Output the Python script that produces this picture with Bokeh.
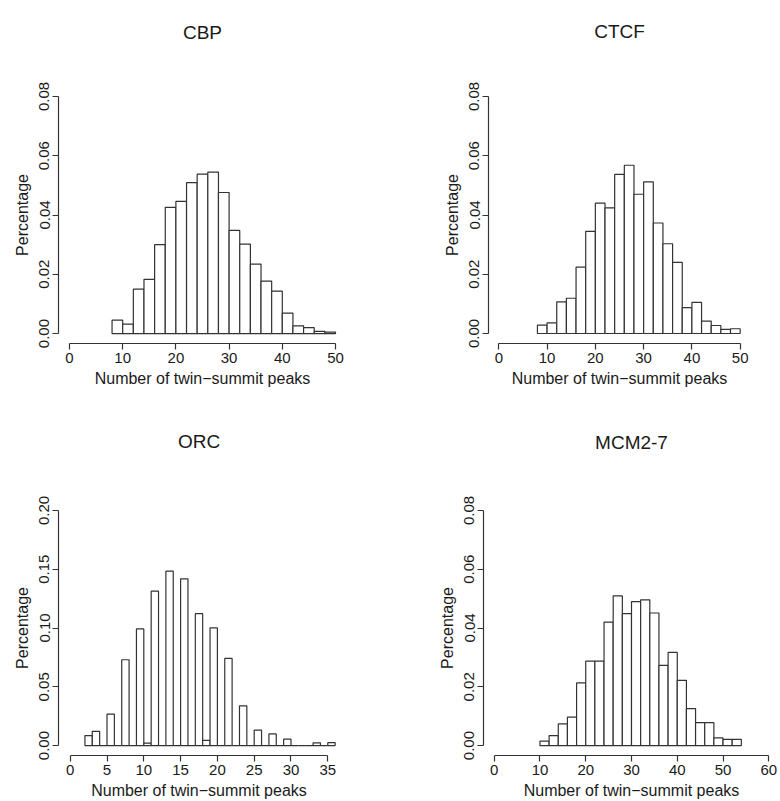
from bokeh.plotting import figure
from bokeh.models import Range1d, FixedTicker, Title
from bokeh.layouts import column, row
from bokeh.embed import file_html
from bokeh.resources import INLINE

# ---------------- data ----------------
cbp_bins = [8, 10, 12, 14, 16, 18, 20, 22, 24, 26, 28, 30, 32, 34, 36, 38, 40, 42, 44, 46, 48, 50]
cbp_vals = [0.0045, 0.0032, 0.0150, 0.0183, 0.0300, 0.0426, 0.0446, 0.0509, 0.0538, 0.0545, 0.0476,
            0.0348, 0.0302, 0.0234, 0.0177, 0.0143, 0.0069, 0.0026, 0.0020, 0.0007, 0.0005]

ctcf_bins = [8, 10, 12, 14, 16, 18, 20, 22, 24, 26, 28, 30, 32, 34, 36, 38, 40, 42, 44, 46, 48, 50]
ctcf_vals = [0.0028, 0.0036, 0.0107, 0.0119, 0.0224, 0.0345, 0.0440, 0.0424, 0.0537, 0.0568, 0.0470,
             0.0512, 0.0373, 0.0303, 0.0240, 0.0087, 0.0105, 0.0042, 0.0027, 0.0014, 0.0016]

orc_bins = [2, 3, 4, 5, 6, 7, 8, 9, 10, 11, 12, 13, 14, 15, 16, 17, 18, 19, 20, 21, 22, 23, 24, 25, 26,
            27, 28, 29, 30, 31, 32, 33, 34, 35, 36]
orc_vals = [0.0085, 0.0121, 0.0, 0.0268, 0.0, 0.0730, 0.0, 0.0992, 0.0020, 0.1313, 0.0, 0.1483, 0.0,
            0.1418, 0.0, 0.1122, 0.0045, 0.1001, 0.0, 0.0741, 0.0, 0.0338, 0.0, 0.0132, 0.0, 0.0099,
            0.0, 0.0054, 0.0, 0.0, 0.0, 0.0023, 0.0, 0.0025]

mcm_bins = [10, 12, 14, 16, 18, 20, 22, 24, 26, 28, 30, 32, 34, 36, 38, 40, 42, 44, 46, 48, 50, 52, 54]
mcm_vals = [0.0015, 0.0034, 0.0074, 0.0097, 0.0213, 0.0287, 0.0287, 0.0420, 0.0509, 0.0449, 0.0490,
            0.0496, 0.0451, 0.0273, 0.0317, 0.0222, 0.0126, 0.0078, 0.0078, 0.0026, 0.0021, 0.0021]

xticks_50 = [0, 10, 20, 30, 40, 50]
xticks_35 = [0, 5, 10, 15, 20, 25, 30, 35]
xticks_60 = [0, 10, 20, 30, 40, 50, 60]
yticks_08 = [0.0, 0.02, 0.04, 0.06, 0.08]
yticks_20 = [0.0, 0.05, 0.10, 0.15, 0.20]

titles = ["CBP", "CTCF", "ORC", "MCM2-7"]
xlabel = "Number of twin\u2212summit peaks"
ylabel = "Percentage"

FONT = "Liberation Sans"
INK = "#1a1a1a"
LINE = "#333333"


def panel(title, bins, vals, xticks, yticks, fig_w, fig_h, yaxis_x, x0_px, xscale,
          y0_px, ytop_px, xaxis_y, title_y):
    xmax = xticks[-1]
    ymax = yticks[-1]
    mid = x0_px + xmax * xscale / 2.0
    frame_right = 2 * mid - yaxis_x
    yscale = (y0_px - ytop_px) / ymax
    c = (y0_px + ytop_px) / 2.0
    frame_top = 2 * c - xaxis_y

    x_start = (yaxis_x - x0_px) / xscale
    x_end = (frame_right - x0_px) / xscale
    y_start = -(xaxis_y - y0_px) / yscale
    y_end = (y0_px - frame_top) / yscale

    p = figure(width=fig_w, height=fig_h, output_backend="svg", toolbar_location=None,
               x_range=Range1d(x_start, x_end), y_range=Range1d(y_start, y_end),
               min_border_left=int(round(yaxis_x)), min_border_right=int(round(fig_w - frame_right)),
               min_border_top=int(round(frame_top)), min_border_bottom=int(round(fig_h - xaxis_y)))
    p.outline_line_color = None
    p.xgrid.visible = False
    p.ygrid.visible = False
    p.background_fill_color = "white"
    p.border_fill_color = "white"

    p.quad(left=bins[:-1], right=bins[1:], bottom=0, top=vals,
           fill_color="white", line_color=LINE, line_width=1.2)

    for ax, ticks in ((p.xaxis[0], xticks), (p.yaxis[0], yticks)):
        ax.bounds = (ticks[0], ticks[-1])
        ax.ticker = FixedTicker(ticks=ticks)
        ax.axis_line_color = LINE
        ax.axis_line_width = 1.2
        ax.major_tick_line_color = LINE
        ax.major_tick_line_width = 1.2
        ax.major_tick_in = 0
        ax.major_tick_out = 6
        ax.minor_tick_line_color = None
        ax.major_label_text_font = FONT
        ax.major_label_text_font_size = "15px"
        ax.major_label_text_color = INK
        ax.axis_label_text_font = FONT
        ax.axis_label_text_font_size = "16px"
        ax.axis_label_text_font_style = "normal"
        ax.axis_label_text_color = INK

    p.xaxis[0].major_label_overrides = {t: str(t) for t in xticks}
    p.yaxis[0].major_label_overrides = {t: "%.2f" % t for t in yticks}
    p.yaxis[0].major_label_orientation = "vertical"
    p.xaxis[0].axis_label = xlabel
    p.yaxis[0].axis_label = ylabel
    p.xaxis[0].major_label_standoff = 3
    p.xaxis[0].axis_label_standoff = 4
    p.yaxis[0].major_label_standoff = 3
    p.yaxis[0].axis_label_standoff = 6

    # title: bottom padding lifts the text away from the frame without growing the top border
    t_h = 19 * 1.2
    pad_bottom = int(round(frame_top - 1 - title_y - t_h / 2.0))
    p.add_layout(Title(text=title, align="center", standoff=2,
                       padding=dict(left=0, right=0, top=0, bottom=pad_bottom),
                       text_font=FONT, text_font_size="19px", text_font_style="normal",
                       text_color=INK), "above")
    return p


p1 = panel(titles[0], cbp_bins, cbp_vals, xticks_50, yticks_08, 430, 410,
           58, 69, 5.32, 333.3, 95.5, 343.3, 30)
p2 = panel(titles[1], ctcf_bins, ctcf_vals, xticks_50, yticks_08, 350, 410,
           58, 68.3, 4.82, 333.3, 96.5, 343.3, 30)
p3 = panel(titles[2], orc_bins, orc_vals, xticks_35, yticks_20, 430, 391,
           58.3, 70, 7.351, 336.7, 100, 346.7, 30)
p4 = panel(titles[3], mcm_bins, mcm_vals, xticks_60, yticks_08, 350, 391,
           53.3, 64, 4.572, 336.7, 99.3, 346.7, 30)

layout = column(row(p1, p2), row(p3, p4))

open("out.html", "w").write(file_html(layout, INLINE))
